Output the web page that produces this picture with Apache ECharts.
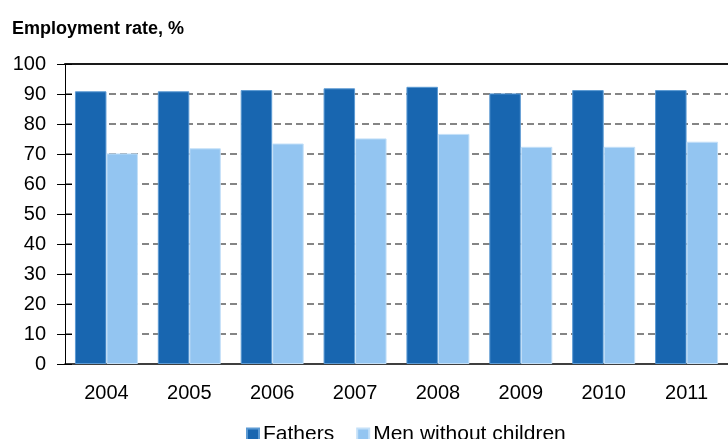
<!DOCTYPE html>
<html>
<head>
<meta charset="utf-8">
<script src="https://cdn.jsdelivr.net/npm/echarts@6/dist/echarts.min.js"></script>
<style>
  html, body { margin: 0; padding: 0; background: #fff; }
  #chart { width: 728px; height: 439px; }
</style>
</head>
<body>
<div id="chart"></div>
<script>
// Employment rate of fathers vs. men without children, by year
const years = ['2004', '2005', '2006', '2007', '2008', '2009', '2010', '2011'];
const fathers = [90.9, 90.9, 91.3, 91.9, 92.4, 90.2, 91.3, 91.3];
const menWithoutChildren = [70.2, 71.9, 73.5, 75.2, 76.7, 72.4, 72.4, 74.1];
const yTicks = [0, 10, 20, 30, 40, 50, 60, 70, 80, 90, 100];

const labelFont = 'Liberation Sans, Arial, sans-serif';

// dashed gridlines between the solid baseline and the solid top frame line
const gridColors = yTicks.map(v => (v === 100 || v === 0 ? 'rgba(0,0,0,0)' : '#858585'));

const chart = echarts.init(document.getElementById('chart'), null, { renderer: 'canvas' });

chart.setOption({
  animation: false,
  backgroundColor: '#ffffff',
  title: {
    text: 'Employment rate, %',
    left: 7,
    top: 15,
    textStyle: { fontFamily: 'Liberation Sans, Arial, sans-serif', fontWeight: 'bold', fontSize: 18, color: '#000' }
  },
  legend: {
    data: ['Fathers', 'Men without children'],
    left: 241,
    top: 419,
    icon: 'rect',
    itemWidth: 12,
    itemHeight: 12,
    itemGap: 22,
    textStyle: { fontFamily: labelFont, fontSize: 21, color: '#000', padding: [0, 0, 0, -1] }
  },
  grid: { left: 65, top: 64, width: 664, height: 300, containLabel: false },
  xAxis: [
    {
      type: 'category',
      data: years,
      axisLine: { lineStyle: { color: '#000', width: 1.5 } },
      axisTick: { show: false },
      axisLabel: { fontFamily: labelFont, fontSize: 20, color: '#000', margin: 19 },
      splitLine: { show: false }
    },
    {
      // frame line along the top of the plot area
      type: 'category',
      data: years,
      position: 'top',
      axisLine: { show: true, onZero: false, lineStyle: { color: '#1a1a1a', width: 2 } },
      axisTick: { show: false },
      axisLabel: { show: false },
      splitLine: { show: false }
    }
  ],
  yAxis: [
    {
      type: 'value',
      min: 0,
      max: 100,
      interval: 10,
      axisLine: { show: true, lineStyle: { color: '#000', width: 1 } },
      axisTick: { show: true, length: 8, lineStyle: { color: '#000' } },
      axisLabel: {
        fontFamily: labelFont, fontSize: 20, color: '#000', margin: 19,
        formatter: v => (yTicks.includes(v) ? String(v) : '')
      },
      splitLine: { show: true, lineStyle: { color: gridColors, type: [7, 4], width: 2 } }
    },
    {
      // inward tick marks crossing the axis line
      type: 'value',
      min: 0,
      max: 100,
      interval: 10,
      position: 'left',
      axisLine: { show: false },
      axisTick: { show: true, inside: true, length: 7, lineStyle: { color: '#000' } },
      axisLabel: { show: false },
      splitLine: { show: false }
    }
  ],
  series: [
    {
      name: 'Fathers',
      type: 'bar',
      data: fathers,
      barWidth: 31.5,
      barGap: '0%',
      itemStyle: { color: '#1866b0', borderColor: '#5c9ad3', borderWidth: 1 },
      z: 3
    },
    {
      name: 'Men without children',
      type: 'bar',
      data: menWithoutChildren,
      barWidth: 31.5,
      barGap: '0%',
      itemStyle: { color: '#93c5f1', borderColor: '#c4e0f8', borderWidth: 1 },
      z: 3
    }
  ]
});
</script>
</body>
</html>
